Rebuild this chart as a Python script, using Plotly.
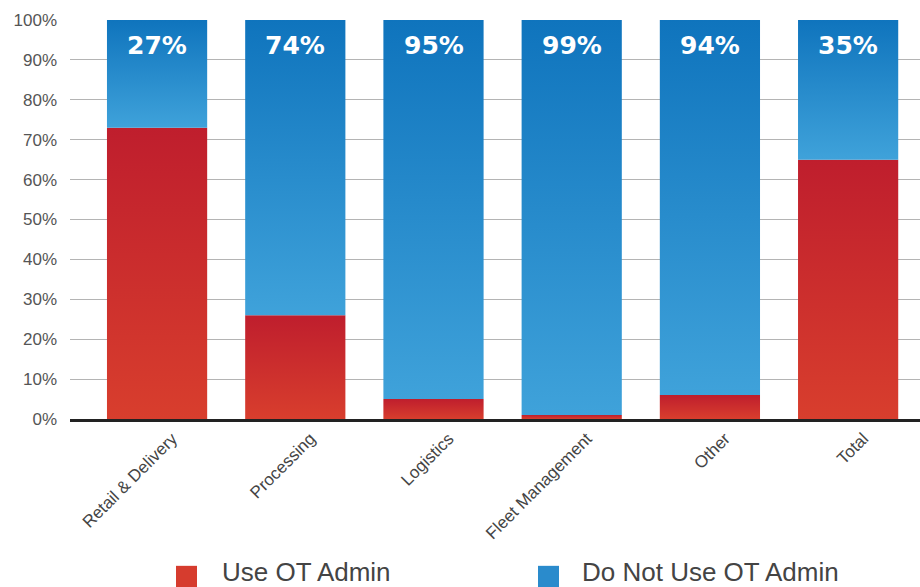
import plotly.graph_objects as go

# Share of operations in each segment, in percent
categories = ["Retail & Delivery", "Processing", "Logistics", "Fleet Management", "Other", "Total"]
use_ot_admin = [73, 26, 5, 1, 6, 65]
do_not_use_ot_admin = [27, 74, 95, 99, 94, 35]
series_names = ["Use OT Admin", "Do Not Use OT Admin"]
y_ticks = [0, 10, 20, 30, 40, 50, 60, 70, 80, 90, 100]

# Vertical gradients (bottom colour, top colour) for each stack segment
RED = ("#d83e2d", "#bf1e2d")
BLUE = ("#3fa2da", "#0f74bd")
LEGEND_RED = "#d63c2e"
LEGEND_BLUE = "#2a8bcc"

BAR_WIDTH = 0.725
LABEL_OFFSET = 0.11  # rotated category labels sit slightly right of bar centres

fig = go.Figure()


def add_segment(i, base, height, colors):
    x0, x1 = i - BAR_WIDTH / 2, i + BAR_WIDTH / 2
    y0, y1 = base, base + height
    fig.add_trace(go.Scatter(
        x=[x0, x1, x1, x0, x0],
        y=[y0, y0, y1, y1, y0],
        mode="none",
        fill="toself",
        fillgradient=dict(type="vertical",
                          colorscale=[[0, colors[0]], [1, colors[1]]]),
        hoverinfo="skip",
        showlegend=False,
    ))


for i, (u, n) in enumerate(zip(use_ot_admin, do_not_use_ot_admin)):
    add_segment(i, 0, u, RED)
    add_segment(i, u, n, BLUE)

# Percentage of "Do Not Use" printed inside the top of each bar
for i, n in enumerate(do_not_use_ot_admin):
    fig.add_annotation(
        x=i, y=100, xref="x", yref="y",
        text=f"{n}%", showarrow=False,
        yanchor="middle", yshift=-25,
        font=dict(family="DejaVu Sans", size=25, color="white", weight="bold"),
    )

# Legend drawn below the axis
legend_items = [
    (series_names[0], LEGEND_RED, 0.1247, 0.1765),
    (series_names[1], LEGEND_BLUE, 0.5506, 0.6000),
]
for name, color, sq_x, txt_x in legend_items:
    fig.add_shape(
        type="rect", xref="paper", yref="paper",
        x0=sq_x, x1=sq_x + 0.0247, y0=-0.368, y1=-0.422,
        fillcolor=color, line_width=0,
    )
    fig.add_annotation(
        x=txt_x, y=-0.383, xref="paper", yref="paper",
        text=name, showarrow=False, xanchor="left", yanchor="middle",
        font=dict(family="Liberation Sans, Arial, sans-serif", size=26, color="#444444"),
    )

fig.update_layout(
    width=920, height=587,
    margin=dict(l=70, r=0, t=20, b=168),
    paper_bgcolor="white",
    plot_bgcolor="white",
    showlegend=False,
    xaxis=dict(
        range=[-0.63, 5.52],
        tickvals=[i + LABEL_OFFSET for i in range(len(categories))],
        ticktext=categories,
        tickangle=-45,
        showgrid=False,
        zeroline=False,
        showline=True,
        linecolor="#222222",
        linewidth=3,
        ticks="",
        tickfont=dict(family="Liberation Sans, Arial, sans-serif", size=17, color="#444444"),
        fixedrange=True,
    ),
    yaxis=dict(
        range=[0, 100],
        tickvals=y_ticks,
        ticktext=[f"{v}%" for v in y_ticks],
        showgrid=True,
        gridcolor="#b4b4b4",
        gridwidth=1,
        zeroline=False,
        showline=False,
        ticks="",
        ticklabelstandoff=12,
        tickfont=dict(family="Liberation Sans, Arial, sans-serif", size=17, color="#555555"),
        fixedrange=True,
    ),
)

fig.write_html("out.html")
